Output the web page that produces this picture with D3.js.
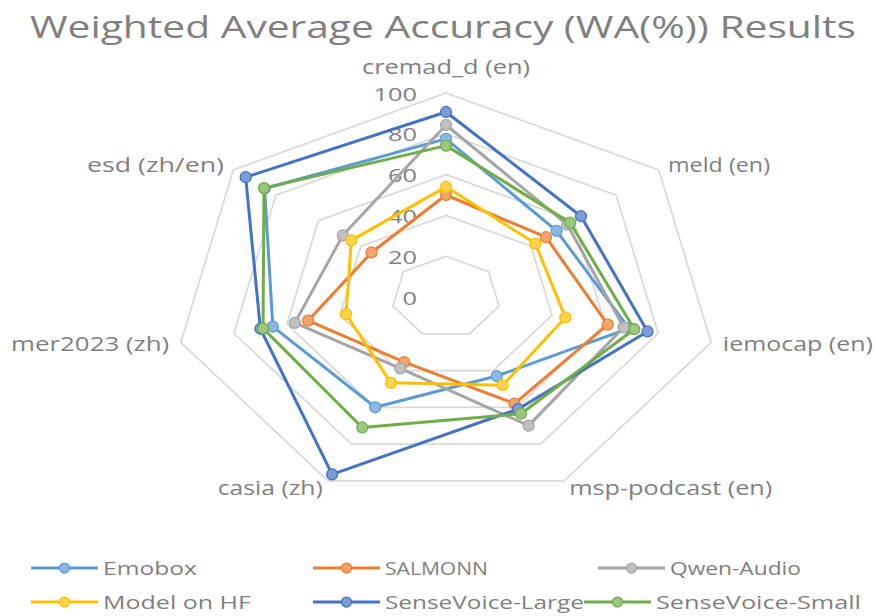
<!DOCTYPE html>
<html>
<head>
<meta charset="utf-8">
<script src="https://cdn.jsdelivr.net/npm/d3@7"></script>
<style>
  body { margin: 0; background: #fff; }
  svg { display: block; font-family: "Open Sans", "Noto Sans", sans-serif; }
</style>
</head>
<body>
<svg id="radar" width="876" height="616"></svg>
<script>
// categories (axes) and tick labels
var axes = ["cremad_d (en)", "meld (en)", "iemocap (en)", "msp-podcast (en)", "casia (zh)", "mer2023 (zh)", "esd  (zh/en)"];
var tickValues = [0, 20, 40, 60, 80, 100];

// series values, in axis order
var emobox     = [77.5, 52, 69, 43, 60, 65.3, 85.3];
var salmonn    = [50, 47, 61, 58, 35.4, 52, 35];
var qwenAudio  = [84.3, 57, 67, 70, 38.8, 57, 48.5];
var modelOnHF  = [54, 42, 45, 48, 46.7, 37.7, 44.5];
var senseLarge = [90.7, 63.5, 76, 61, 96.5, 70, 94.2];
var senseSmall = [74.2, 58.4, 71, 63.5, 71, 69, 85.6];

var seriesNames = ["Emobox", "SALMONN", "Qwen-Audio", "Model on HF", "SenseVoice-Large", "SenseVoice-Small"];
var seriesValues = [emobox, salmonn, qwenAudio, modelOnHF, senseLarge, senseSmall];
var seriesColors = ["#5B9BD5", "#ED7D31", "#A5A5A5", "#FFC000", "#4472C4", "#70AD47"];

var svg = d3.select("#radar"),
    cx = 446,
    cy = 297;

// the picture is stretched sideways, so x and y radii differ
var rx = d3.scaleLinear().domain([0, 100]).range([0, 272]);
var ry = d3.scaleLinear().domain([0, 100]).range([0, 204]);
var angle = d3.scaleLinear().domain([0, axes.length]).range([0, 2 * Math.PI]);

function px(i, v) { return cx + Math.sin(angle(i)) * rx(v); }
function py(i, v) { return cy - Math.cos(angle(i)) * ry(v); }

// stretch a text to a given width
function fit(sel, w) {
  sel.attr("textLength", w).attr("lengthAdjust", "spacingAndGlyphs");
}

// title
svg.append("text")
    .attr("x", 30).attr("y", 38)
    .attr("fill", "#808080")
    .style("font-size", "31px")
    .text("Weighted Average Accuracy (WA(%)) Results")
    .call(fit, 826);

// grid rings
var ring = d3.line()
    .x(function(d) { return d[0]; })
    .y(function(d) { return d[1]; })
    .curve(d3.curveLinearClosed);

svg.append("g").selectAll("path")
    .data(tickValues.filter(function(t) { return t > 0; }))
    .enter().append("path")
    .attr("d", function(t) {
        return ring(axes.map(function(a, i) { return [px(i, t), py(i, t)]; }));
    })
    .attr("fill", "none")
    .attr("stroke", "#D9D9D9")
    .attr("stroke-width", 1.75);

// tick labels along the top axis
svg.append("g").selectAll("text")
    .data(tickValues)
    .enter().append("text")
    .attr("x", cx - 29)
    .attr("y", function(t) { return cy - ry(t) + 1; })
    .attr("dy", "0.35em")
    .attr("text-anchor", "end")
    .attr("fill", "#7f7f7f")
    .style("font-size", "19px")
    .text(function(t) { return t; })
    .each(function(t) {
        d3.select(this).call(fit, String(t).length * 14.5);
    });

// axis labels
var labelWidths = [168, 102, 150, 203, 105, 158, 137];
svg.append("g").selectAll("text")
    .data(axes)
    .enter().append("text")
    .attr("x", function(d, i) { return i === 0 ? cx : cx + Math.sin(angle(i)) * (rx(100) + 12); })
    .attr("y", function(d, i) { return i === 0 ? cy - ry(100) - 26 : cy - Math.cos(angle(i)) * (ry(100) + 8); })
    .attr("dy", "0.35em")
    .attr("text-anchor", function(d, i) {
        var s = Math.sin(angle(i));
        return Math.abs(s) < 0.01 ? "middle" : (s > 0 ? "start" : "end");
    })
    .attr("fill", "#7f7f7f")
    .style("font-size", "20px")
    .text(function(d) { return d; })
    .each(function(d, i) { d3.select(this).call(fit, labelWidths[i]); });

// series
var series = svg.append("g").selectAll("g")
    .data(seriesValues)
    .enter().append("g");

series.append("path")
    .attr("d", function(vals) {
        return ring(vals.map(function(v, i) { return [px(i, v), py(i, v)]; }));
    })
    .attr("fill", "none")
    .attr("stroke", function(d, k) { return seriesColors[k]; })
    .attr("stroke-width", 3)
    .attr("stroke-linejoin", "round");

series.each(function(vals, k) {
    d3.select(this).selectAll("circle")
        .data(vals)
        .enter().append("circle")
        .attr("cx", function(v, i) { return px(i, v); })
        .attr("cy", function(v, i) { return py(i, v); })
        .attr("r", 5.5)
        .attr("fill", d3.interpolateRgb(seriesColors[k], "#fff")(0.3))
        .attr("stroke", seriesColors[k])
        .attr("stroke-width", 1.25);
});

// legend
var legendX = [31, 313, 598, 31, 313, 584],
    legendY = [568, 568, 568, 602, 602, 602],
    legendTextW = [94, 103, 131, 148, 199, 205];

var item = svg.append("g").selectAll("g")
    .data(seriesNames)
    .enter().append("g")
    .attr("transform", function(d, k) { return "translate(" + legendX[k] + "," + legendY[k] + ")"; });

item.append("line")
    .attr("x1", 0).attr("x2", 67)
    .attr("stroke", function(d, k) { return seriesColors[k]; })
    .attr("stroke-width", 3);

item.append("circle")
    .attr("cx", 33.5).attr("r", 5)
    .attr("fill", function(d, k) { return d3.interpolateRgb(seriesColors[k], "#fff")(0.3); })
    .attr("stroke", function(d, k) { return seriesColors[k]; })
    .attr("stroke-width", 1.25);

item.append("text")
    .attr("x", 72)
    .attr("dy", "0.35em")
    .attr("fill", "#7f7f7f")
    .style("font-size", "19px")
    .text(function(d) { return d; })
    .each(function(d, k) { d3.select(this).call(fit, legendTextW[k]); });
</script>
</body>
</html>
